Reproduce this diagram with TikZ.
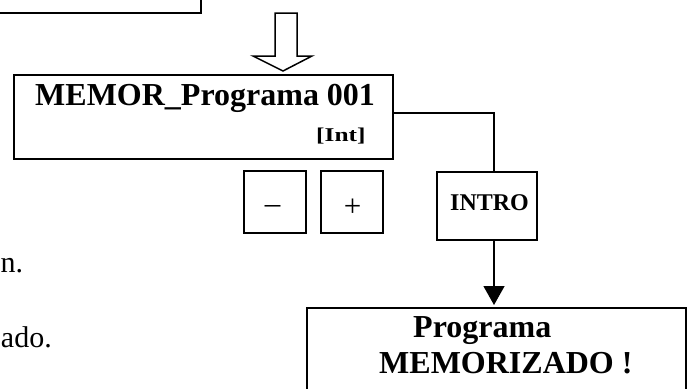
\documentclass[tikz,border=0pt]{standalone}
\usepackage{fontspec}
\setmainfont{Liberation Serif}
\usetikzlibrary{arrows.meta}
\tikzset{
  box/.style={draw, line width=2pt, inner sep=0pt},
  wire/.style={line width=1.3pt},
  bigtxt/.style={inner sep=0pt, font=\fontsize{32}{38}\selectfont\bfseries},
  bodytxt/.style={inner sep=0pt, font=\fontsize{30}{36}\selectfont},
  keytxt/.style={inner sep=0pt, font=\fontsize{31}{36}\selectfont},
}
\begin{document}
\begin{tikzpicture}[x=1pt,y=-1pt]
\useasboundingbox (0,0) rectangle (692,388);
\clip (0,0) rectangle (692,388);

% previous step box (only its lower part lies on the page)
\node[box, minimum width=222pt, minimum height=66pt] (prev) at (90,-20) {};

% hollow block arrow between the two steps
\draw[line width=1.5pt, line join=miter]
  (275,13) -- (275,56) -- (253,56) -- (283,71) -- (312,56) -- (297,56) -- (297,13) -- cycle;

% memorise-program display
\node[box, minimum width=379pt, minimum height=84pt] (memor) at (203.5,117) {};
\node[bigtxt, anchor=base west] (memtxt) at (35,105) {MEMOR\_Programa 001};
\node[inner sep=0pt, anchor=base east, font=\fontsize{19.5}{24}\selectfont\bfseries] (inttxt) at (365.7,141) {\scalebox{1.3}[1]{[Int]}};

% keys
\node[box, minimum width=62pt, minimum height=62pt] (minus) at (275,202) {};
\node[keytxt, anchor=base] (minustxt) at (272.5,213.5) {–};
\node[box, minimum width=62pt, minimum height=62pt] (plus) at (352,202) {};
\node[keytxt, anchor=base] (plustxt) at (352.5,216.5) {+};
\node[box, minimum width=100pt, minimum height=68pt] (intro) at (486.5,206) {};
\node[inner sep=0pt, anchor=base, font=\fontsize{24}{28}\selectfont\bfseries] (introtxt) at (489.5,210) {INTRO};

% result display
\node[box, minimum width=379pt, minimum height=112pt] (prog) at (496.5,364) {};
\node[bigtxt, anchor=base west] (progtxt1) at (413,337) {Programa};
\node[bigtxt, anchor=base west] (progtxt2) at (379,373) {MEMORIZADO !};

% connectors
\draw[wire] ([yshift=4pt]memor.east) -| ([xshift=7.5pt]intro.north);
\draw[wire, -{Triangle[width=21pt, length=19pt]}, shorten >=2pt]
  ([xshift=7.5pt]intro.south) -- ([xshift=7.5pt]intro.south |- prog.north);

% running text at the left margin
\node[bodytxt, anchor=base west] (line1) at (0.5,272) {n.};
\node[bodytxt, anchor=base east] (line2) at (52,347) {ado.};
\end{tikzpicture}
\end{document}
